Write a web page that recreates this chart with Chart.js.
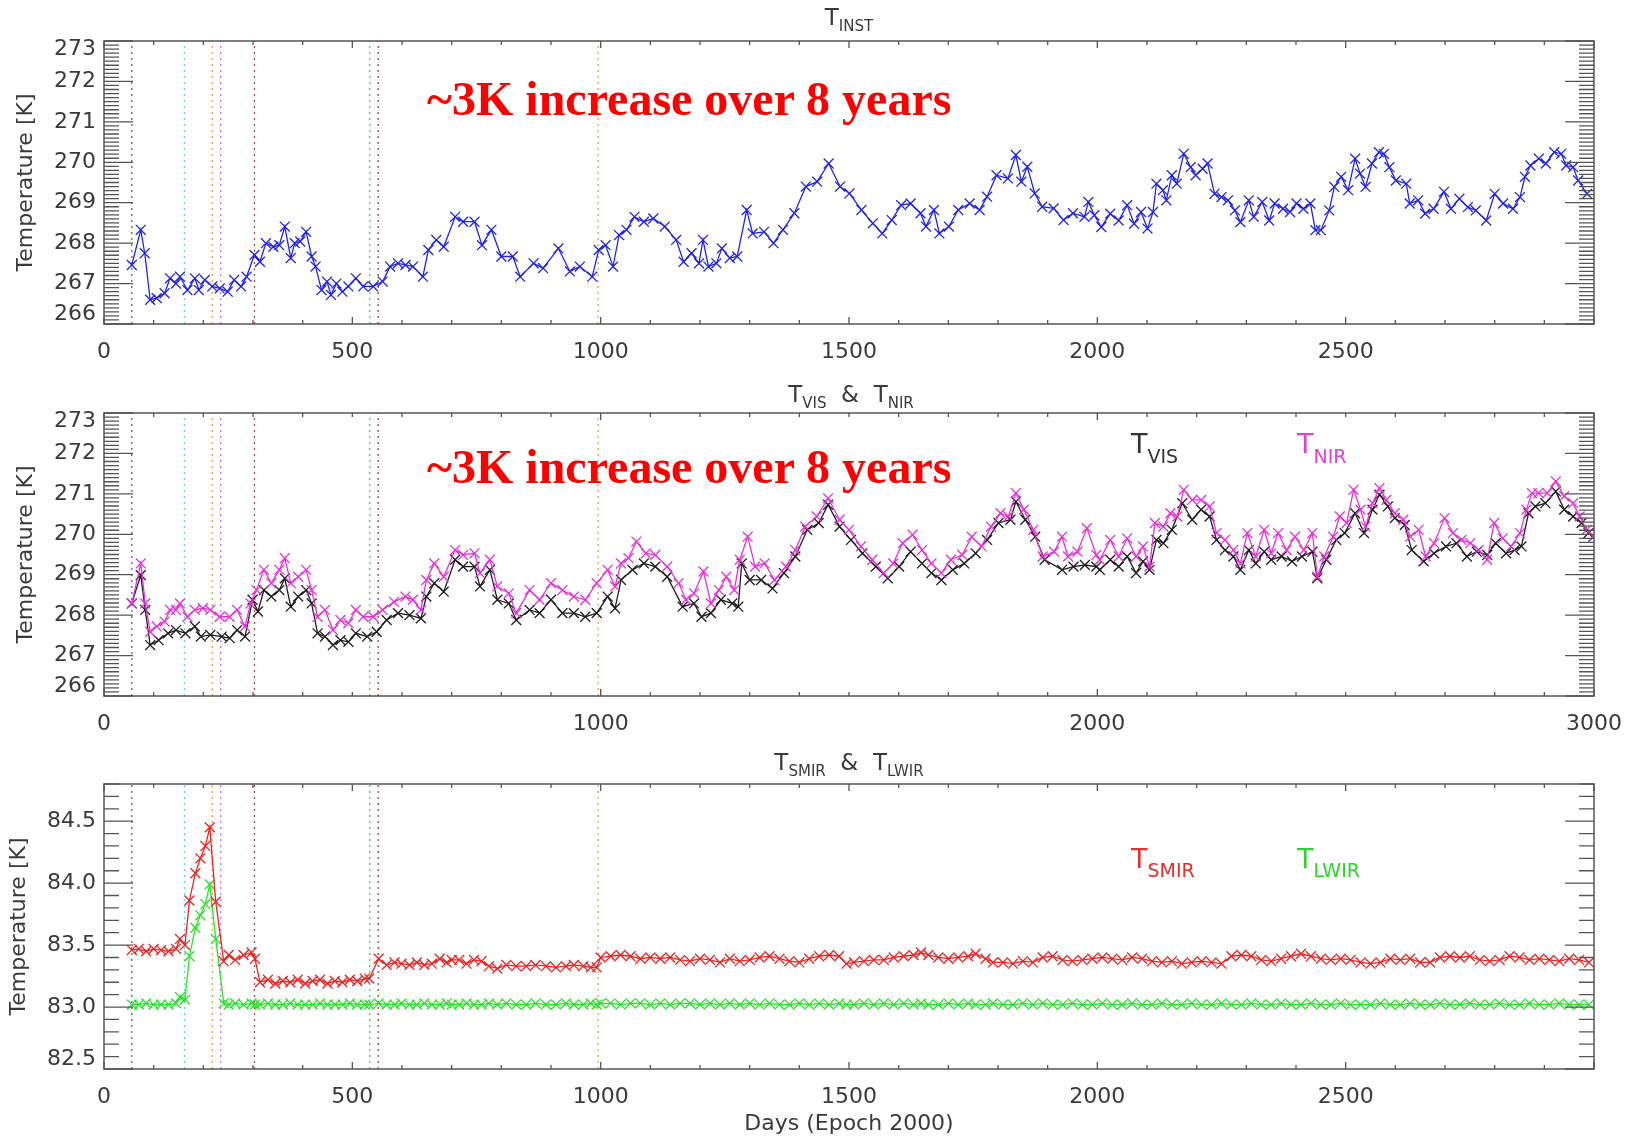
<!DOCTYPE html>
<html>
<head>
<meta charset="utf-8">
<script src="https://cdn.jsdelivr.net/npm/chart.js@4.4.1/dist/chart.umd.min.js"></script>
<style>
  body { margin: 0; background: #fff; }
  #page { position: relative; width: 1637px; height: 1137px; overflow: hidden; background: #fff; }
  canvas { position: absolute; left: 0; }
  .lab { position: absolute; line-height: 1; white-space: nowrap; font-family: 'DejaVu Sans', sans-serif; color: #3a3a3a; }
  .lab .s { vertical-align: -6px; }
  .note { position: absolute; line-height: 1; white-space: nowrap; font-family: 'Liberation Serif', 'Times New Roman', serif;
          font-weight: bold; font-size: 48px; color: #ff0000; }
</style>
</head>
<body>
<div id="page">
  <canvas id="c1" width="1637" height="370" style="top:0px"></canvas>
  <canvas id="c2" width="1637" height="370" style="top:370px"></canvas>
  <canvas id="c3" width="1637" height="397" style="top:740px"></canvas>

  <div class="lab" style="left:849px; top:6px; font-size:23px; transform:translateX(-50%)">T<span class="s" style="font-size:15px">INST</span></div>
  <div class="lab" style="left:851px; top:383px; font-size:23px; transform:translateX(-50%)">T<span class="s" style="font-size:15px">VIS</span> &nbsp;&amp;&nbsp; T<span class="s" style="font-size:15px">NIR</span></div>
  <div class="lab" style="left:849px; top:751px; font-size:23px; transform:translateX(-50%)">T<span class="s" style="font-size:15px">SMIR</span> &nbsp;&amp;&nbsp; T<span class="s" style="font-size:15px">LWIR</span></div>

  <div class="lab" style="left:1131px; top:430px; font-size:27px; color:#333">T<span style="font-size:19px; vertical-align:-10px">VIS</span></div>
  <div class="lab" style="left:1297px; top:430px; font-size:27px; color:#e040d8">T<span style="font-size:19px; vertical-align:-10px">NIR</span></div>
  <div class="lab" style="left:1131px; top:845px; font-size:27px; color:#e03030">T<span style="font-size:19px; vertical-align:-9px">SMIR</span></div>
  <div class="lab" style="left:1297px; top:845px; font-size:27px; color:#30d030">T<span style="font-size:19px; vertical-align:-9px">LWIR</span></div>

  <div class="note" style="left:427px; top:75px">~3K increase over 8 years</div>
  <div class="note" style="left:427px; top:443px">~3K increase over 8 years</div>
</div>
<script>
// tick labels
var xLabelsFine = [0, 500, 1000, 1500, 2000, 2500];
var xLabelsCoarse = [0, 1000, 2000, 3000];
var yLabelsTemp = [266, 267, 268, 269, 270, 271, 272, 273];
var yLabelsIR = [82.5, 83.0, 83.5, 84.0, 84.5];

// days of the dotted event markers
var eventDays = [56, 162, 218, 235, 303, 535, 552, 995];
var eventColors = ['#5a5ab0', '#50d8e8', '#e0a050', '#d070e0', '#b04848', '#50c850', '#b03838', '#e0a050'];

// T_INST
var instDays = [56,74,82,93,106,122,133,145,153,168,183,191,203,218,233,249,262,276,287,303,314,326,341,353,364,376,384,395,407,418,426,438,449,457,468,480,492,507,522,542,561,576,592,607,622,642,653,669,684,707,723,746,761,780,800,823,838,865,884,915,938,958,983,996,
  1010,1025,1037,1052,1068,1087,1106,1129,1152,1167,1183,1198,1206,1217,1233,1244,1260,1275,1294,1306,1329,1348,1367,1390,1413,1436,1459,1482,1501,1525,1548,1567,1586,1605,1624,1644,1655,1671,1682,1701,1720,1743,1763,1778,1797,1820,1836,1847,1859,1874,1889,1912,1932,1951,1974,1982,
  1994,2008,2026,2043,2060,2074,2088,2101,2112,2119,2132,2139,2150,2160,2174,2188,2198,2212,2222,2236,2250,2263,2277,2288,2305,2315,2332,2346,2357,2374,2388,2401,2415,2429,2439,2450,2467,2477,2491,2505,2519,2529,2540,2553,2567,2577,2588,2601,2622,2629,2646,2660,2677,2698,2712,2729,2746,2762,2783,2800,2817,2837,2851,2861,2872,2889,2903,2920,2934,2944,2958,2968,2986];
var instTemp = [267.46,268.33,267.75,266.6,266.64,266.76,267.13,267.0,267.17,266.84,267.13,266.84,267.09,266.93,266.88,266.8,267.09,266.93,267.17,267.71,267.54,268.0,267.91,267.95,268.41,267.63,268.0,268.04,268.28,267.67,267.42,266.84,267.05,266.72,267.0,266.8,266.93,267.13,266.93,266.93,267.05,267.42,267.5,267.46,267.42,267.17,267.83,268.08,267.91,268.65,268.53,268.53,267.95,268.33,267.67,267.67,267.17,267.5,267.38,267.87,267.3,267.42,267.17,267.83,
  267.95,267.42,268.2,268.33,268.65,268.53,268.61,268.41,268.08,267.54,267.75,267.5,268.08,267.42,267.5,267.87,267.63,267.67,268.82,268.24,268.28,268.0,268.33,268.74,269.4,269.52,269.97,269.4,269.23,268.82,268.49,268.24,268.57,268.94,268.98,268.74,268.41,268.82,268.24,268.41,268.82,268.98,268.82,269.15,269.68,269.6,270.18,269.52,269.89,269.23,268.9,268.86,268.57,268.74,268.65,269.02,
  268.69,268.4,268.73,268.56,268.94,268.48,268.77,268.36,268.77,269.47,269.31,269.06,269.68,269.47,270.21,269.88,269.68,269.84,269.97,269.22,269.14,269.06,268.81,268.52,269.06,268.65,269.02,268.56,268.98,268.85,268.77,268.98,268.85,268.98,268.32,268.32,268.81,269.39,269.64,269.31,270.09,269.72,269.39,269.97,270.25,270.21,269.88,269.55,269.47,268.98,269.06,268.73,268.85,269.27,268.85,269.1,268.89,268.81,268.56,269.22,268.98,268.85,269.14,269.64,269.92,270.09,269.97,270.25,270.21,269.92,269.88,269.55,269.22];

// T_NIR
var nirDays = [56,74,83,93,106,122,133,145,153,168,183,199,214,233,253,268,284,295,307,322,337,353,364,376,391,407,418,430,445,461,476,492,507,522,542,561,584,607,622,638,649,665,684,707,723,746,757,777,792,815,830,857,877,900,923,946,969,992,
  1014,1029,1041,1056,1072,1091,1110,1134,1157,1172,1188,1207,1222,1238,1253,1269,1280,1296,1311,1330,1350,1373,1392,1412,1435,1458,1481,1500,1524,1547,1570,1589,1608,1628,1647,1666,1686,1705,1728,1747,1767,1786,1805,1821,1836,1852,1871,1890,1913,1929,1941,1960,1979,1998,
  2005,2026,2043,2060,2078,2092,2105,2116,2133,2147,2161,2174,2191,2209,2226,2240,2257,2274,2288,2302,2319,2336,2350,2364,2381,2398,2416,2433,2443,2457,2475,2488,2502,2516,2530,2540,2554,2568,2582,2599,2616,2630,2647,2661,2678,2699,2716,2733,2751,2768,2785,2799,2816,2833,2851,2864,2875,2888,2906,2923,2940,2958,2971,2985,2999];
var nirTemp = [268.29,269.28,268.29,267.59,267.72,267.84,268.13,268.13,268.29,267.96,268.13,268.17,268.13,267.96,267.96,268.13,267.72,268.29,268.62,269.12,268.79,269.12,269.41,268.79,268.95,269.12,268.62,267.96,268.13,267.63,267.88,267.8,268.13,267.96,267.96,268.13,268.33,268.46,268.38,268.13,268.87,269.28,268.95,269.61,269.49,269.53,269.04,269.37,268.71,268.54,268.05,268.62,268.38,268.79,268.62,268.46,268.38,268.79,
  269.12,268.71,269.28,269.41,269.82,269.53,269.49,269.2,268.79,268.38,268.54,269.08,268.29,268.62,268.95,268.62,269.37,269.94,269.2,269.28,268.87,269.2,269.61,270.19,270.44,270.89,270.36,270.11,269.7,269.37,269.04,269.28,269.78,269.99,269.61,269.28,269.04,269.37,269.49,269.94,269.7,270.19,270.52,270.44,271.02,270.61,270.11,269.45,269.57,269.94,269.45,269.57,270.15,269.49,
  269.37,269.86,269.45,269.9,269.45,269.7,269.2,270.28,270.19,270.52,270.44,271.1,270.85,270.85,270.69,270.03,269.86,269.61,269.28,270.03,269.45,270.11,269.53,270.03,269.61,269.94,269.61,270.03,268.95,269.45,269.94,270.44,270.28,271.1,270.61,270.19,270.77,271.14,270.85,270.52,270.36,269.94,270.11,269.45,269.78,270.4,270.03,269.86,269.78,269.61,269.37,270.28,269.9,269.7,270.03,270.61,271.02,271.02,271.02,271.31,270.94,270.77,270.44,270.11,269.94];

// T_VIS
var visDays = [56,74,83,93,110,129,145,164,183,195,214,237,253,268,284,299,310,322,337,353,364,376,391,407,418,430,445,461,476,492,507,530,549,569,592,615,638,649,665,684,707,723,746,757,777,792,815,830,857,877,900,923,946,969,992,
  1014,1029,1041,1064,1087,1110,1134,1165,1188,1203,1222,1242,1265,1277,1284,1300,1323,1346,1369,1392,1416,1439,1458,1481,1504,1527,1554,1578,1601,1624,1647,1666,1686,1709,1732,1755,1778,1801,1825,1836,1855,1875,1894,1929,1952,1975,1998,
  2005,2026,2043,2060,2078,2092,2105,2119,2133,2150,2171,2191,2209,2226,2240,2257,2274,2288,2305,2319,2336,2350,2371,2392,2412,2433,2443,2461,2481,2498,2519,2537,2554,2568,2585,2599,2619,2633,2657,2678,2702,2723,2744,2764,2785,2802,2823,2840,2854,2868,2882,2902,2923,2940,2958,2975,2989,2999];
var visTemp = [268.29,268.99,268.13,267.26,267.38,267.55,267.63,267.55,267.72,267.47,267.51,267.47,267.43,267.63,267.47,268.38,268.09,268.62,268.46,268.62,268.91,268.21,268.46,268.62,268.29,267.55,267.47,267.26,267.38,267.34,267.55,267.47,267.59,267.88,268.05,268.0,267.92,268.46,268.79,268.58,269.37,269.2,269.2,268.71,269.12,268.38,268.29,267.88,268.13,268.05,268.38,268.05,268.05,267.96,268.05,
  268.46,268.17,268.87,269.12,269.28,269.2,268.95,268.21,268.29,267.96,268.05,268.38,268.29,268.21,269.28,268.87,268.87,268.66,269.04,269.45,270.11,270.28,270.73,270.19,269.86,269.53,269.2,268.91,269.2,269.57,269.28,269.04,268.87,269.12,269.28,269.53,269.86,270.28,270.36,270.81,270.36,269.94,269.37,269.12,269.2,269.24,269.2,
  269.12,269.37,269.2,269.45,269.04,269.33,269.12,269.86,269.78,270.11,270.77,270.36,270.61,270.44,269.86,269.61,269.45,269.12,269.61,269.28,269.57,269.37,269.45,269.33,269.45,269.57,268.91,269.37,269.86,270.03,270.52,270.03,270.61,270.98,270.69,270.4,270.23,269.61,269.33,269.53,269.7,269.78,269.45,269.57,269.49,269.78,269.53,269.61,269.7,270.52,270.69,270.77,271.06,270.61,270.44,270.28,270.03,269.94];

// T_SMIR and T_LWIR share the same sample days
var irDays = [56,70,85,100,115,130,145,153,163,172,184,194,204,213,225,241,251,264,281,297,304,314,330,345,360,375,390,405,420,435,450,465,480,495,510,525,534,553,569,585,599,615,630,645,660,676,690,700,715,730,745,760,775,792,810,830,850,869,890,910,930,946,965,980,992,
  1000,1020,1040,1060,1080,1100,1120,1140,1160,1180,1200,1220,1240,1260,1280,1300,1320,1340,1360,1380,1400,1420,1440,1460,1480,1495,1510,1530,1550,1570,1590,1610,1630,1645,1660,1680,1700,1720,1740,1755,1775,1790,1810,1830,1850,1870,1890,1910,1930,1950,1970,1990,
  2010,2030,2050,2070,2090,2110,2130,2150,2170,2190,2210,2230,2250,2270,2290,2310,2330,2350,2370,2390,2410,2430,2450,2470,2490,2510,2530,2550,2570,2590,2610,2630,2650,2670,2690,2710,2730,2750,2770,2790,2810,2830,2850,2870,2890,2910,2930,2950,2970,2990];
var smirTemp = [83.46,83.47,83.45,83.47,83.46,83.45,83.47,83.55,83.50,83.86,84.08,84.20,84.30,84.45,83.85,83.37,83.42,83.38,83.42,83.44,83.39,83.20,83.22,83.19,83.21,83.20,83.22,83.19,83.21,83.22,83.19,83.21,83.20,83.22,83.21,83.23,83.23,83.39,83.34,83.36,83.35,83.34,83.36,83.34,83.35,83.39,83.36,83.38,83.38,83.35,83.38,83.37,83.33,83.31,83.34,83.33,83.33,83.34,83.33,83.32,83.33,83.34,83.33,83.32,83.32,
  83.40,83.41,83.42,83.41,83.39,83.40,83.39,83.40,83.38,83.37,83.39,83.38,83.36,83.39,83.37,83.38,83.40,83.41,83.39,83.37,83.36,83.39,83.41,83.42,83.41,83.35,83.36,83.37,83.38,83.38,83.40,83.41,83.42,83.44,83.42,83.40,83.39,83.40,83.41,83.43,83.39,83.36,83.36,83.35,83.37,83.36,83.40,83.41,83.38,83.37,83.38,83.39,
  83.40,83.39,83.38,83.40,83.39,83.37,83.36,83.37,83.35,83.36,83.37,83.36,83.35,83.41,83.42,83.41,83.38,83.37,83.39,83.41,83.43,83.41,83.39,83.38,83.39,83.38,83.36,83.35,83.36,83.39,83.38,83.39,83.36,83.36,83.40,83.41,83.40,83.41,83.38,83.37,83.38,83.41,83.40,83.38,83.39,83.38,83.37,83.39,83.38,83.36];
var lwirTemp = [83.02,83.02,83.03,83.02,83.02,83.02,83.03,83.08,83.06,83.41,83.64,83.74,83.83,83.99,83.55,83.03,83.02,83.03,83.02,83.03,83.02,83.02,83.03,83.02,83.02,83.03,83.02,83.02,83.02,83.03,83.02,83.02,83.02,83.03,83.02,83.02,83.02,83.03,83.02,83.02,83.03,83.02,83.02,83.03,83.02,83.02,83.03,83.02,83.02,83.03,83.02,83.02,83.03,83.02,83.03,83.02,83.02,83.03,83.02,83.02,83.03,83.02,83.02,83.03,83.02,
  83.03,83.03,83.02,83.03,83.03,83.02,83.03,83.02,83.03,83.03,83.02,83.03,83.02,83.03,83.02,83.03,83.02,83.03,83.02,83.02,83.03,83.02,83.03,83.02,83.03,83.02,83.02,83.03,83.02,83.03,83.02,83.03,83.02,83.03,83.02,83.02,83.03,83.02,83.03,83.02,83.02,83.03,83.02,83.02,83.03,83.02,83.03,83.02,83.02,83.03,83.02,83.02,
  83.03,83.02,83.02,83.03,83.02,83.02,83.03,83.02,83.02,83.03,83.02,83.02,83.03,83.02,83.02,83.03,83.02,83.02,83.03,83.02,83.02,83.03,83.02,83.02,83.03,83.02,83.02,83.02,83.03,83.02,83.02,83.03,83.02,83.02,83.03,83.02,83.02,83.03,83.02,83.02,83.03,83.02,83.02,83.03,83.02,83.02,83.03,83.02,83.02,83.02];

var axisFont = { family: 'DejaVu Sans', size: 22 };
var axisColor = '#3a3a3a';

function pts(days, vals) {
  return days.map(function (d, i) { return { x: d, y: vals[i] }; });
}

function series(days, vals, color, order) {
  return {
    data: pts(days, vals), order: order,
    borderColor: color, borderWidth: 1.3,
    pointStyle: 'crossRot', pointRadius: 7, pointBorderWidth: 1.3,
    pointBorderColor: color, pointBackgroundColor: color, tension: 0
  };
}

function eventLines(ymin, ymax) {
  return eventDays.map(function (d, i) {
    return {
      data: [{ x: d, y: ymin }, { x: d, y: ymax }], order: 10,
      borderColor: eventColors[i], borderWidth: 1.3, borderDash: [2, 4], pointRadius: 0
    };
  });
}

// box with inward ticks on all four sides + y labels, IDL style
var idlFrame = {
  id: 'idlFrame',
  afterDraw: function (chart, args, o) {
    var ctx = chart.ctx, a = chart.chartArea, xs = chart.scales.x, ys = chart.scales.y;
    ctx.save();
    ctx.strokeStyle = '#555';
    ctx.lineWidth = 1.5;
    ctx.strokeRect(a.left, a.top, a.right - a.left, a.bottom - a.top);
    ctx.lineWidth = 1.3;
    ctx.beginPath();
    var n = Math.round((xs.max - xs.min) / o.xMinor);
    var ratio = Math.round(o.xMajor / o.xMinor);
    for (var i = 0; i <= n; i++) {
      var px = xs.getPixelForValue(xs.min + i * o.xMinor);
      var len = (i % ratio === 0) ? 7 : 4;
      ctx.moveTo(px, a.bottom); ctx.lineTo(px, a.bottom - len);
      ctx.moveTo(px, a.top); ctx.lineTo(px, a.top + len);
    }
    n = Math.round((ys.max - ys.min) / o.yMinor);
    ratio = Math.round(o.yMajor / o.yMinor);
    for (i = 0; i <= n; i++) {
      var py = ys.getPixelForValue(ys.min + i * o.yMinor);
      len = (i % ratio === 0) ? 29 : 15;
      ctx.moveTo(a.left, py); ctx.lineTo(a.left + len, py);
      ctx.moveTo(a.right, py); ctx.lineTo(a.right - len, py);
    }
    ctx.stroke();
    ctx.fillStyle = axisColor;
    ctx.font = '22px "DejaVu Sans"';
    ctx.textAlign = 'right';
    ctx.textBaseline = 'middle';
    o.yLabels.forEach(function (v) {
      var py = ys.getPixelForValue(v);
      py = Math.min(Math.max(py, a.top + 8), a.bottom - 10);
      ctx.fillText(o.fmt(v), a.left - 8, py);
    });
    ctx.restore();
  }
};

function panel(id, datasets, c) {
  return new Chart(document.getElementById(id), {
    type: 'line',
    data: { datasets: datasets },
    options: {
      responsive: false, animation: false, devicePixelRatio: 1,
      layout: { padding: { top: c.padTop, right: 43, left: 0, bottom: 0 } },
      plugins: { legend: { display: false }, tooltip: { enabled: false }, idlFrame: c.frame },
      scales: {
        x: {
          type: 'linear', min: 0, max: 3000,
          grid: { display: false }, border: { display: false },
          ticks: {
            stepSize: c.xStep, padding: 7, maxRotation: 0, autoSkip: false,
            color: axisColor, font: axisFont,
            callback: function (v) { return c.xLabels.indexOf(v) >= 0 ? String(v) : ''; }
          },
          title: c.xTitle ? { display: true, text: c.xTitle, color: axisColor, font: axisFont, padding: { top: 0, bottom: 0 } } : { display: false },
          afterFit: function (s) { s.height = c.xHeight; }
        },
        y: {
          type: 'linear', min: c.yMin, max: c.yMax,
          grid: { display: false }, border: { display: false },
          ticks: { display: false },
          title: { display: true, text: 'Temperature [K]', color: axisColor, font: axisFont, padding: { top: c.yTitlePad, bottom: 0 } },
          afterFit: function (s) { s.width = 104; }
        }
      }
    },
    plugins: [idlFrame]
  });
}

panel('c1',
  [series(instDays, instTemp, 'rgb(35,35,225)', 0)].concat(eventLines(266, 273)),
  { padTop: 41, xHeight: 46, yMin: 266, yMax: 273, xStep: 500, xLabels: xLabelsFine, yTitlePad: 13,
    frame: { xMajor: 500, xMinor: 100, yMajor: 1, yMinor: 0.1, yLabels: yLabelsTemp, fmt: function (v) { return String(v); } } });

panel('c2',
  [series(nirDays, nirTemp, 'rgb(228,50,215)', 0), series(visDays, visTemp, 'rgb(30,30,30)', 1)].concat(eventLines(266, 273)),
  { padTop: 43, xHeight: 44, yMin: 266, yMax: 273, xStep: 1000, xLabels: xLabelsCoarse, yTitlePad: 13,
    frame: { xMajor: 1000, xMinor: 100, yMajor: 1, yMinor: 0.1, yLabels: yLabelsTemp, fmt: function (v) { return String(v); } } });

panel('c3',
  [series(irDays, smirTemp, 'rgb(232,35,35)', 0), series(irDays, lwirTemp, 'rgb(40,225,40)', 1)].concat(eventLines(82.5, 84.8)),
  { padTop: 44, xHeight: 68, yMin: 82.5, yMax: 84.8, xStep: 500, xLabels: xLabelsFine, yTitlePad: 6, xTitle: 'Days (Epoch 2000)',
    frame: { xMajor: 500, xMinor: 100, yMajor: 0.5, yMinor: 0.1, yLabels: yLabelsIR, fmt: function (v) { return v.toFixed(1); } } });
</script>
</body>
</html>
